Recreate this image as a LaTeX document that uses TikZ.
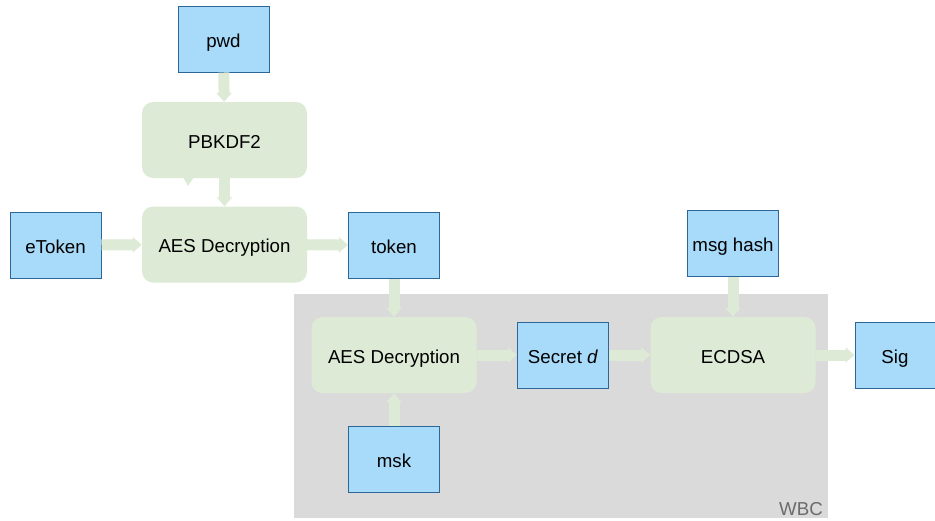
\documentclass[tikz,border=0pt]{standalone}
\usepackage{fontspec}
\setmainfont{Liberation Sans}
\usetikzlibrary{arrows.meta}
\definecolor{boxblue}{HTML}{A8DAF9}
\definecolor{edgeblue}{HTML}{2C6798}
\definecolor{procgreen}{HTML}{DDEAD6}
\definecolor{wbcgray}{HTML}{DADADA}
\definecolor{labelgray}{HTML}{6B6B6B}
\begin{document}
\begin{tikzpicture}[x=1pt,y=-1pt,
  every node/.style={font=\fontsize{18.7}{22}\selectfont, text=black},
  boxtext/.style={text height=16.4pt, text depth=0pt},
  datum/.style={boxtext, draw=edgeblue, line width=1pt, fill=boxblue, minimum width=91pt, minimum height=66pt, inner sep=0pt},
  proc/.style={boxtext, fill=procgreen, rounded corners=11pt, minimum width=165pt, minimum height=76pt, inner sep=0pt},
  flow/.style={draw=procgreen, line width=11pt, -{Triangle[length=9pt,width=15pt]}}]
\useasboundingbox (0,0) rectangle (935,520);
% white-box region
\fill[wbcgray] (294,294) rectangle (828,518);
\node[anchor=south east, text=labelgray, inner sep=0pt] (wbc) at (823,516) {WBC};
% data items
\node[datum] (pwd) at (223.5,39) {pwd};
\node[datum] (etoken) at (55.5,245) {eToken};
\node[datum] (token) at (394,245) {token};
\node[datum] (msk) at (394,459.5) {msk};
\node[datum] (secret) at (563,355) {Secret \textit{d}};
\node[datum] (msghash) at (733,243.5) {msg hash};
\node[datum, minimum width=80pt] (sig) at (895,355) {Sig};
% processing steps
\node[proc] (pbkdf) at (224.5,140) {PBKDF2};
\fill[procgreen] (183,177) -- (194,177) -- (188,186) -- cycle;
\node[proc] (aesa) at (224.5,244.5) {AES Decryption};
\node[proc] (aesb) at (394,355) {AES Decryption};
\node[proc] (ecdsa) at (733,355) {ECDSA};
% flows
\draw[flow] (pwd) -- (pbkdf);
\draw[flow] (pbkdf) -- (aesa);
\draw[flow] (etoken) -- (aesa);
\draw[flow] (aesa) -- (token);
\draw[flow] (token) -- (aesb);
\draw[flow] (msk) -- (aesb);
\draw[flow] (aesb) -- (secret);
\draw[flow] (secret) -- (ecdsa);
\draw[flow] (msghash) -- (ecdsa);
\draw[flow] (ecdsa) -- (sig);
\end{tikzpicture}
\end{document}
